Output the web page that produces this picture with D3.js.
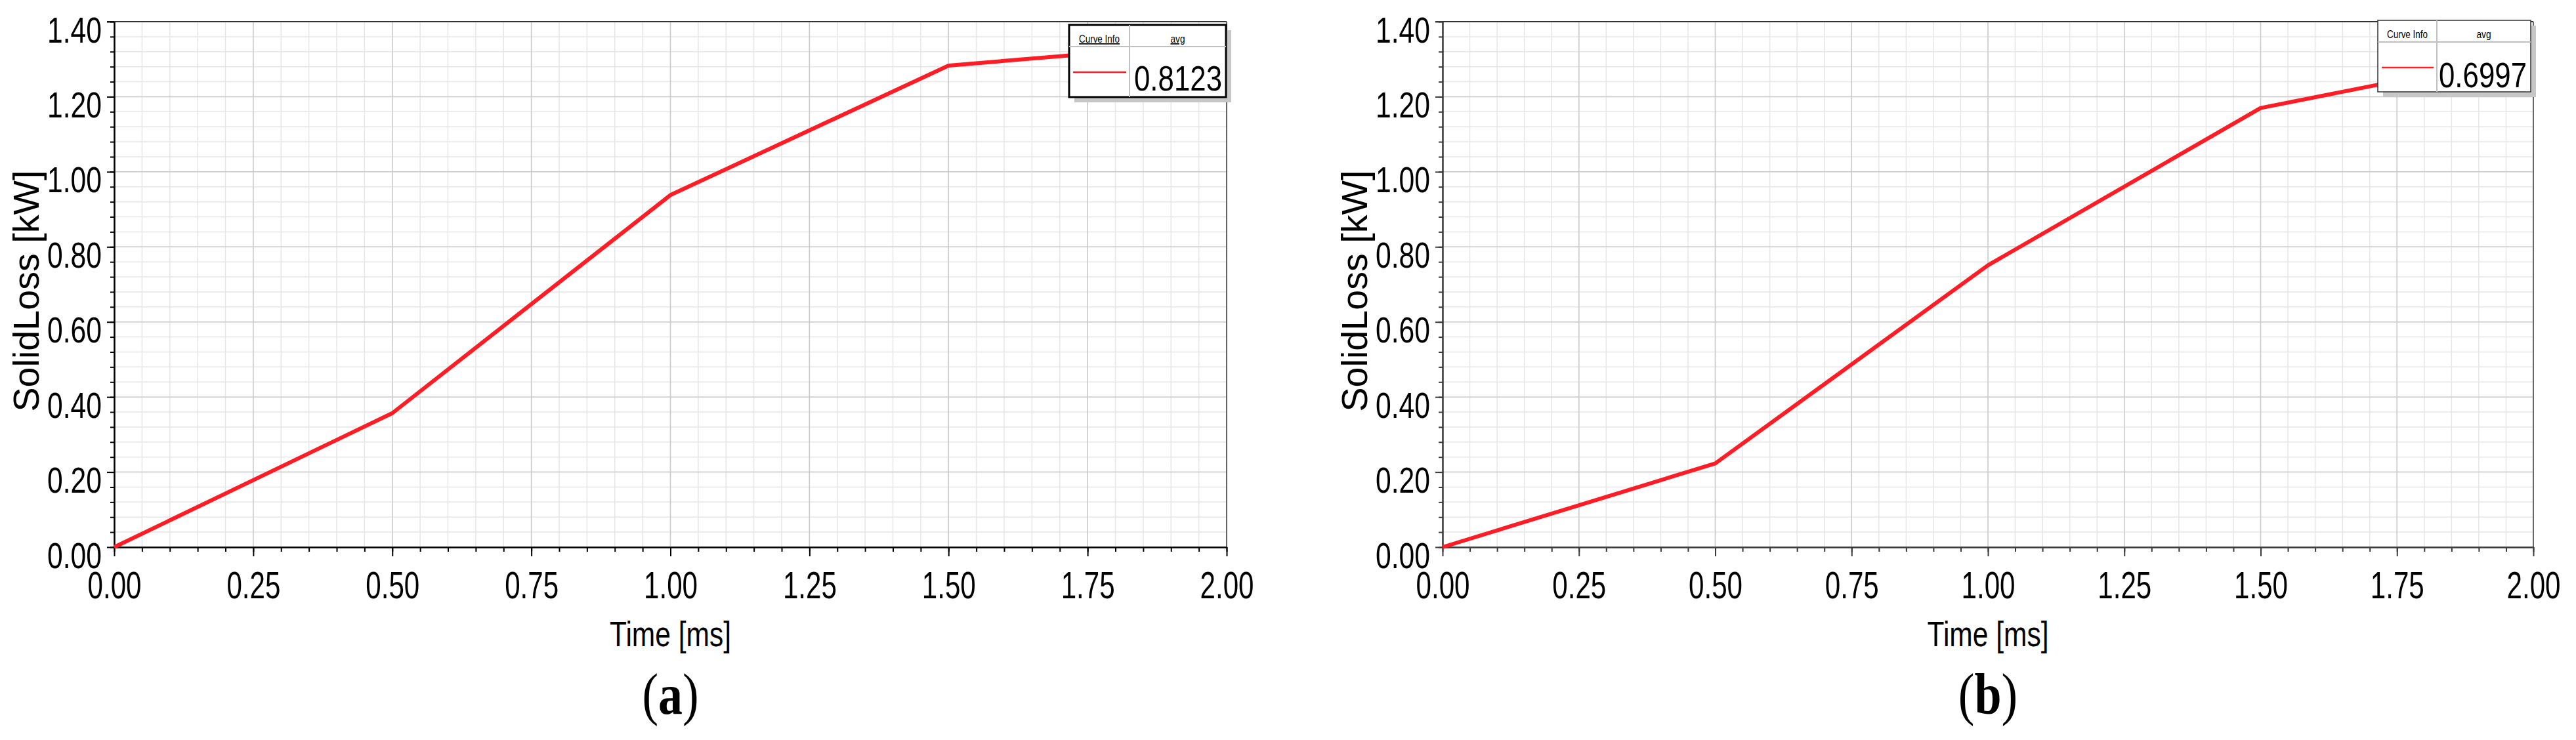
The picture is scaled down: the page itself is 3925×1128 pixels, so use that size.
<!DOCTYPE html>
<html>
<head>
<meta charset="utf-8">
<script src="https://cdn.jsdelivr.net/npm/d3@7"></script>
<style>
  html, body { margin: 0; padding: 0; background: #fff; }
  svg { display: block; }
</style>
</head>
<body>
<svg id="chart"></svg>
<script>
// values
const timeMs = [0, 0.5, 1.0, 1.5, 2.0];
const lossA = [0, 0.357, 0.938, 1.283, 1.345];
const lossB = [0, 0.223, 0.751, 1.170, 1.314];
const avgText = ["0.8123", "0.6997"];
const panelLetters = ["a", "b"];
const xTicks = [0, 0.25, 0.5, 0.75, 1.0, 1.25, 1.5, 1.75, 2.0];
const yTicks = [0, 0.2, 0.4, 0.6, 0.8, 1.0, 1.2, 1.4];

const width = 3925;
const height = 1128;
const red = "#ff1c24";

const svg = d3.select("#chart")
    .attr("width", width)
    .attr("height", height)
    .attr("viewBox", `0 0 ${width} ${height}`);

svg.append("rect").attr("width", width).attr("height", height).attr("fill", "#fff");

const panels = [
    { left: 174, right: 1869, top: 33, bottom: 834, axisColor: "#000",
      legend: { x: 1629, y: 38, w: 239, h: 110, head: 33, col: 92, stroke: "#000", sw: 3, underline: true, lineY: 72, valueBase: 100 } },
    { left: 2198, right: 3860, top: 33, bottom: 834, axisColor: "#3a3a3a",
      legend: { x: 3623, y: 31, w: 233, h: 109, head: 33, col: 90, stroke: "#333", sw: 1.5, underline: false, lineY: 72, valueBase: 102 } }
];

const series = [lossA, lossB];

panels.forEach((p, i) => drawPanel(p, series[i], avgText[i], panelLetters[i]));

function drawPanel(p, values, avg, letter) {
    const x = d3.scaleLinear().domain([0, 2]).range([p.left, p.right]);
    const y = d3.scaleLinear().domain([0, 1.4]).range([p.bottom, p.top]);

    const g = svg.append("g");

    // grid, minor first then major
    const xMinor = d3.range(0, 2.0001, 0.05);
    const yMinor = d3.range(0, 1.4001, 0.04);

    g.append("g").selectAll("line")
        .data(xMinor)
        .join("line")
        .attr("x1", d => x(d)).attr("x2", d => x(d))
        .attr("y1", p.top).attr("y2", p.bottom)
        .attr("stroke", "#e6e6e6").attr("stroke-width", 1.5);

    g.append("g").selectAll("line")
        .data(yMinor)
        .join("line")
        .attr("x1", p.left).attr("x2", p.right)
        .attr("y1", d => y(d)).attr("y2", d => y(d))
        .attr("stroke", "#e6e6e6").attr("stroke-width", 1.5);

    g.append("g").selectAll("line")
        .data(xTicks)
        .join("line")
        .attr("x1", d => x(d)).attr("x2", d => x(d))
        .attr("y1", p.top).attr("y2", p.bottom)
        .attr("stroke", "#cbcbcb").attr("stroke-width", 1.5);

    g.append("g").selectAll("line")
        .data(yTicks)
        .join("line")
        .attr("x1", p.left).attr("x2", p.right)
        .attr("y1", d => y(d)).attr("y2", d => y(d))
        .attr("stroke", "#cbcbcb").attr("stroke-width", 1.5);

    // top and right frame
    g.append("line")
        .attr("x1", p.left - 11).attr("x2", p.right)
        .attr("y1", p.top).attr("y2", p.top)
        .attr("stroke", "#333").attr("stroke-width", 2);
    g.append("line")
        .attr("x1", p.right).attr("x2", p.right)
        .attr("y1", p.top).attr("y2", p.bottom)
        .attr("stroke", "#666").attr("stroke-width", 2);

    // minor ticks
    const yMinorAxis = g.append("g")
        .attr("transform", `translate(${p.left},0)`)
        .call(d3.axisLeft(y).tickValues(yMinor).tickSize(6).tickSizeOuter(0).tickFormat(""));
    yMinorAxis.select(".domain").remove();
    yMinorAxis.selectAll("line").attr("stroke", p.axisColor).attr("stroke-width", 2);

    const xMinorAxis = g.append("g")
        .attr("transform", `translate(0,${p.bottom})`)
        .call(d3.axisBottom(x).tickValues(xMinor).tickSize(7).tickSizeOuter(0).tickFormat(""));
    xMinorAxis.select(".domain").remove();
    xMinorAxis.selectAll("line").attr("stroke", p.axisColor).attr("stroke-width", 2);

    // major axes
    const yAxis = g.append("g")
        .attr("transform", `translate(${p.left},0)`)
        .call(d3.axisLeft(y).tickValues(yTicks).tickSize(11).tickSizeOuter(0).tickPadding(8).tickFormat(d3.format(".2f")));
    yAxis.select(".domain").attr("stroke", p.axisColor).attr("stroke-width", 2.5);
    yAxis.selectAll("line").attr("stroke", p.axisColor).attr("stroke-width", 2);
    yAxis.selectAll("text")
        .attr("dy", 31)
        .attr("fill", "#000")
        .style("font-family", "'Liberation Sans', Arial, sans-serif")
        .style("font-size", "56px")
        .attr("textLength", 83)
        .attr("lengthAdjust", "spacingAndGlyphs");

    const xAxis = g.append("g")
        .attr("transform", `translate(0,${p.bottom})`)
        .call(d3.axisBottom(x).tickValues(xTicks).tickSize(14).tickSizeOuter(0).tickFormat(d3.format(".2f")));
    xAxis.select(".domain").attr("stroke", p.axisColor).attr("stroke-width", 2.5);
    xAxis.selectAll("line").attr("stroke", p.axisColor).attr("stroke-width", 2);
    xAxis.selectAll("text")
        .attr("y", 78)
        .attr("dy", 0)
        .attr("fill", "#000")
        .style("font-family", "'Liberation Sans', Arial, sans-serif")
        .style("font-size", "57px")
        .attr("textLength", 82)
        .attr("lengthAdjust", "spacingAndGlyphs");

    // curve
    const pts = timeMs.map((t, k) => [t, values[k]]);
    g.append("path")
        .datum(pts)
        .attr("fill", "none")
        .attr("stroke", red)
        .attr("stroke-width", 6)
        .attr("stroke-linejoin", "round")
        .attr("d", d3.line().x(d => x(d[0])).y(d => y(d[1])));

    // axis titles
    const midX = (p.left + p.right) / 2;
    g.append("text")
        .attr("transform", `translate(${p.left - 115},${(p.top + p.bottom) / 2 + 10}) rotate(-90)`)
        .attr("text-anchor", "middle")
        .style("font-family", "'Liberation Sans', Arial, sans-serif")
        .style("font-size", "55px")
        .attr("textLength", 368)
        .attr("lengthAdjust", "spacingAndGlyphs")
        .text("SolidLoss [kW]");

    g.append("text")
        .attr("x", midX)
        .attr("y", 985)
        .attr("text-anchor", "middle")
        .style("font-family", "'Liberation Sans', Arial, sans-serif")
        .style("font-size", "53px")
        .attr("textLength", 185)
        .attr("lengthAdjust", "spacingAndGlyphs")
        .text("Time [ms]");

    const lab = g.append("text")
        .attr("transform", `translate(${midX},1088) scale(0.84,1)`)
        .attr("text-anchor", "middle")
        .style("font-family", "'Liberation Serif', 'Times New Roman', serif")
        .style("font-size", "88px");
    lab.append("tspan").text("(");
    lab.append("tspan").style("font-weight", "bold").text(letter);
    lab.append("tspan").text(")");

    // curve info box
    const L = p.legend;
    const lg = g.append("g").attr("transform", `translate(${L.x},${L.y})`);
    lg.append("rect")
        .attr("x", 8).attr("y", 8)
        .attr("width", L.w).attr("height", L.h)
        .attr("fill", "#c6c6c6");
    lg.append("rect")
        .attr("width", L.w).attr("height", L.h)
        .attr("fill", "#fff")
        .attr("stroke", L.stroke)
        .attr("stroke-width", L.sw);
    lg.append("line")
        .attr("x1", 0).attr("x2", L.w)
        .attr("y1", L.head).attr("y2", L.head)
        .attr("stroke", "#c0c0c0").attr("stroke-width", 2);
    lg.append("line")
        .attr("x1", L.col).attr("x2", L.col)
        .attr("y1", 0).attr("y2", L.h)
        .attr("stroke", "#c0c0c0").attr("stroke-width", 2);

    const headFont = "'Liberation Sans', Arial, sans-serif";
    lg.append("text")
        .attr("x", L.col / 2)
        .attr("y", L.head - 6)
        .attr("text-anchor", "middle")
        .style("font-family", headFont)
        .style("font-size", "17px")
        .style("text-decoration", L.underline ? "underline" : "none")
        .attr("textLength", 62)
        .attr("lengthAdjust", "spacingAndGlyphs")
        .text("Curve Info");
    lg.append("text")
        .attr("x", (L.col + L.w) / 2)
        .attr("y", L.head - 6)
        .attr("text-anchor", "middle")
        .style("font-family", headFont)
        .style("font-size", "17px")
        .style("text-decoration", L.underline ? "underline" : "none")
        .attr("textLength", 22)
        .attr("lengthAdjust", "spacingAndGlyphs")
        .text("avg");

    lg.append("line")
        .attr("x1", 6).attr("x2", L.col - 5)
        .attr("y1", L.lineY).attr("y2", L.lineY)
        .attr("stroke", red).attr("stroke-width", 2.5);

    lg.append("text")
        .attr("x", L.w - 6)
        .attr("y", L.valueBase)
        .attr("text-anchor", "end")
        .style("font-family", headFont)
        .style("font-size", "53px")
        .attr("textLength", 134)
        .attr("lengthAdjust", "spacingAndGlyphs")
        .text(avg);
}
</script>
</body>
</html>
